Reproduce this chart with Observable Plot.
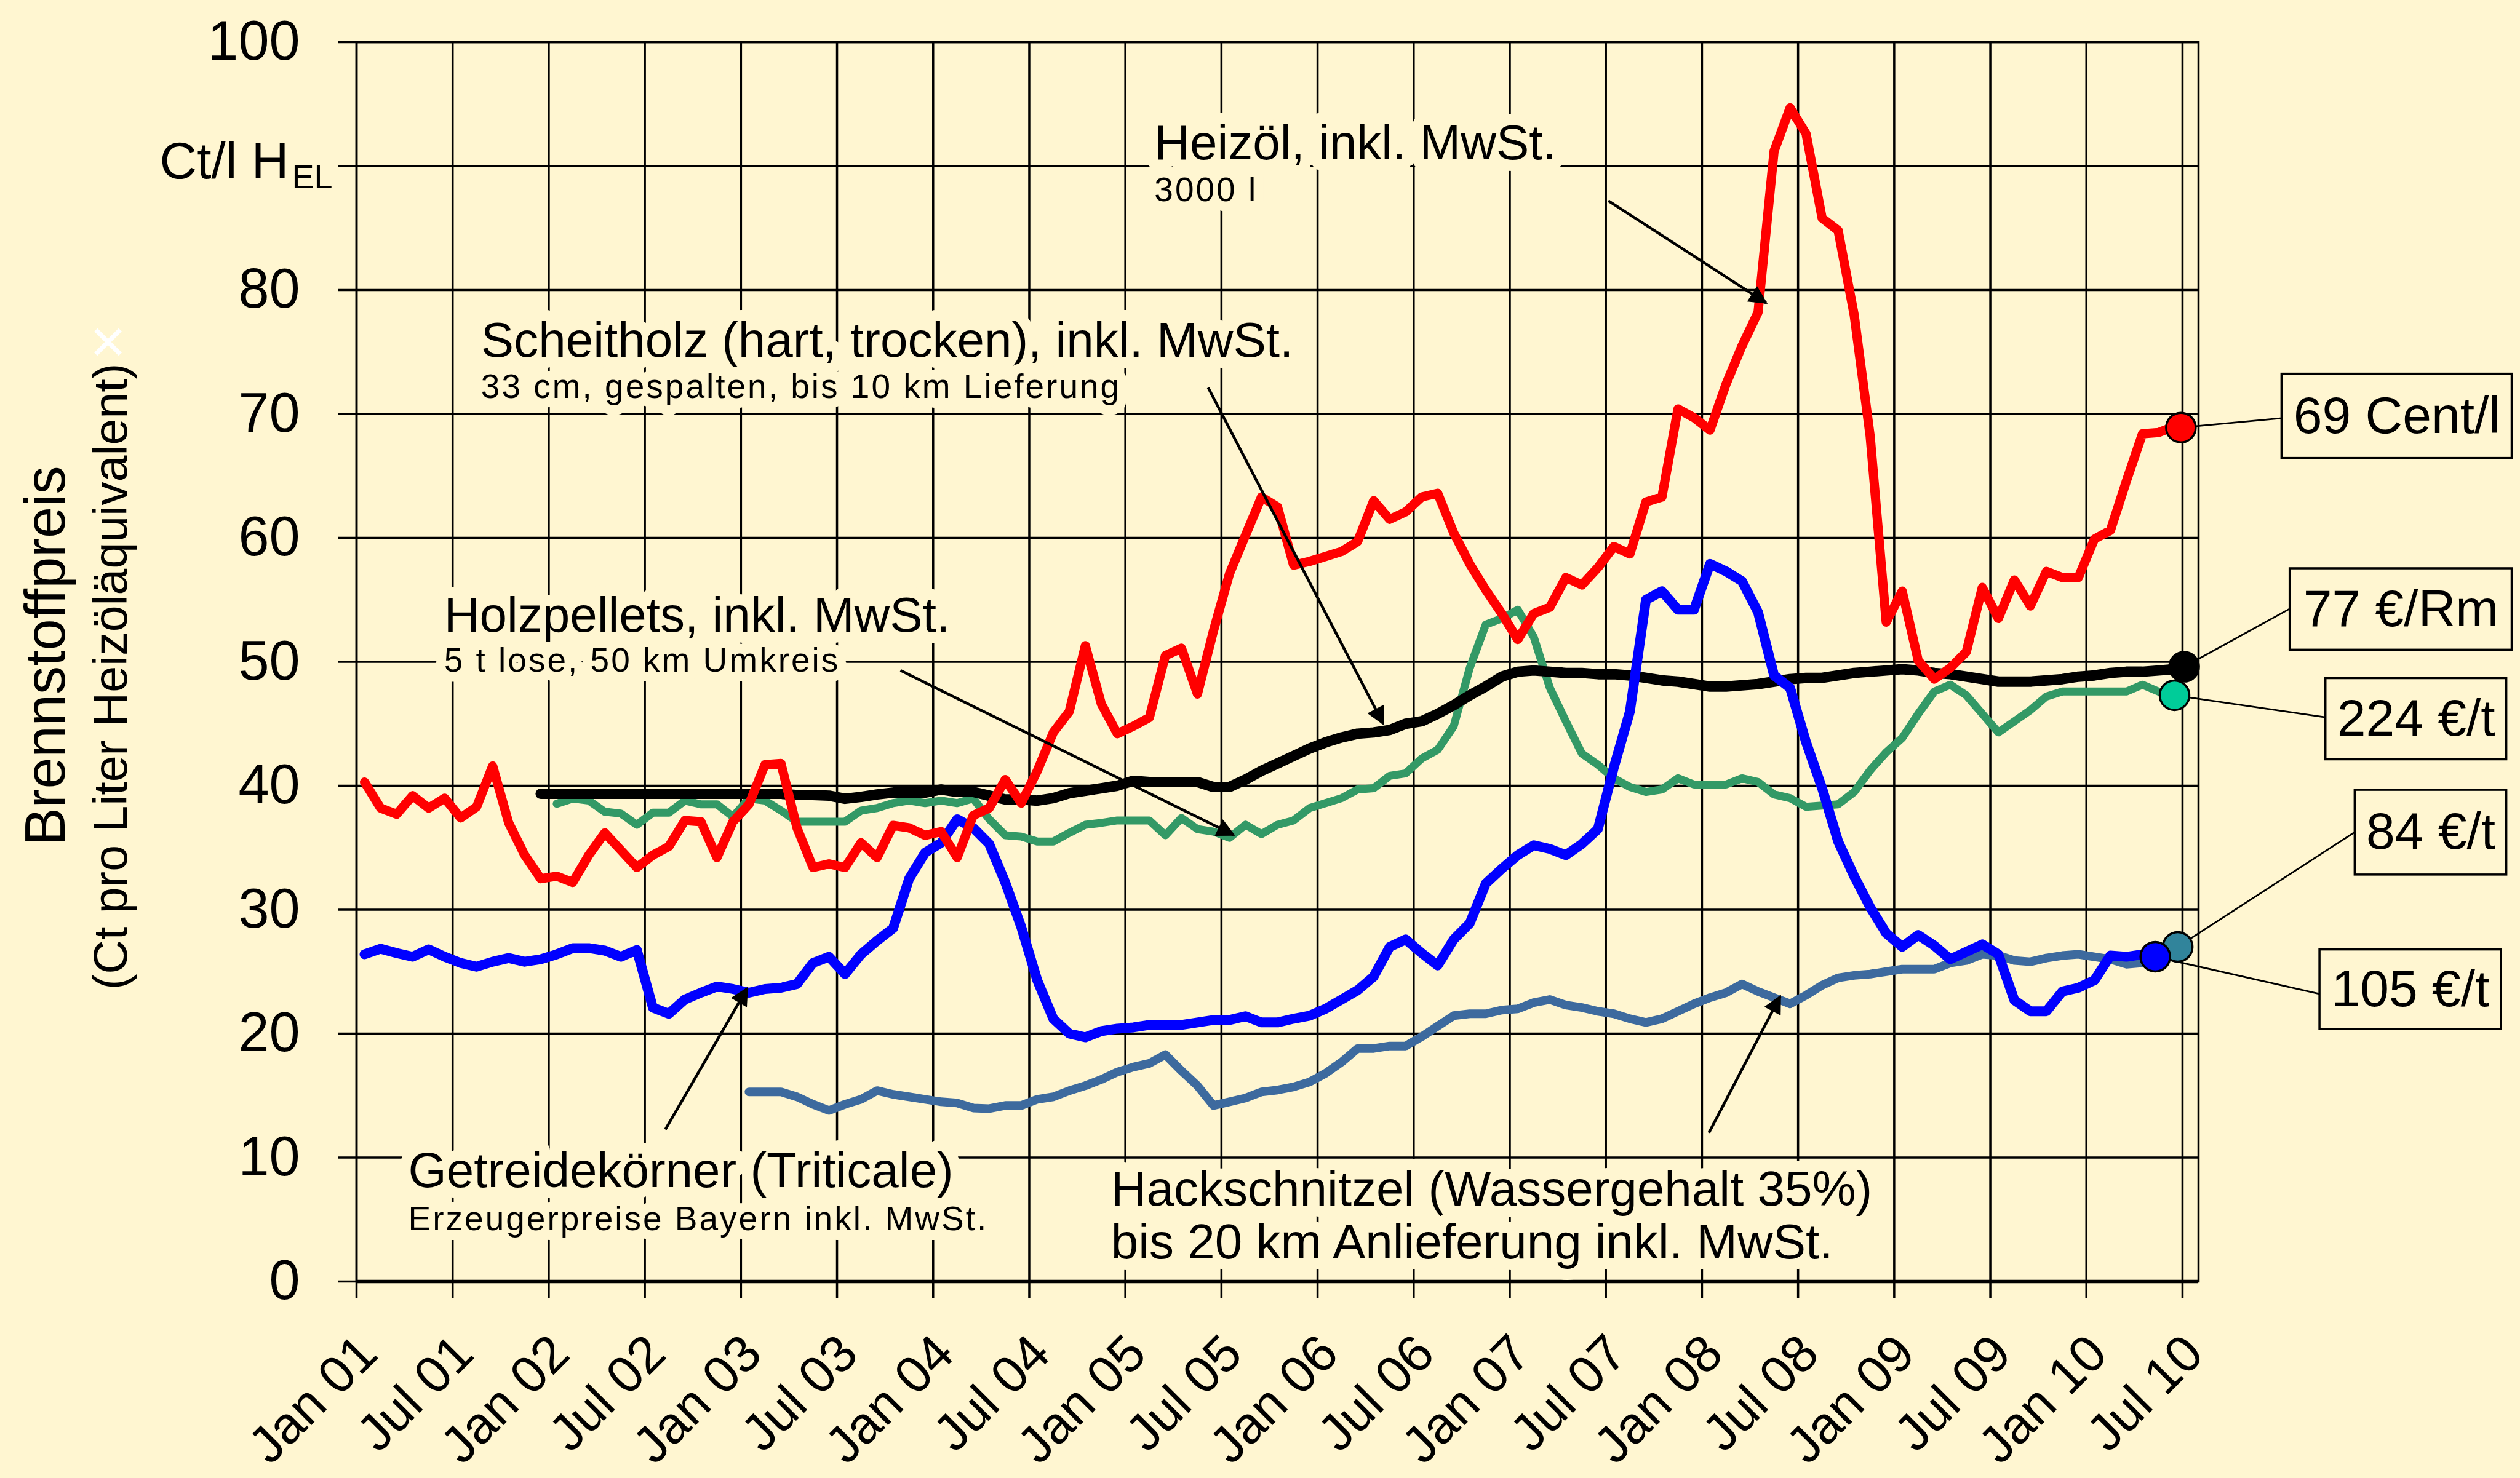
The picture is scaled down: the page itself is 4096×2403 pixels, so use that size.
<!DOCTYPE html>
<html>
<head>
<meta charset="utf-8">
<script src="https://cdn.jsdelivr.net/npm/d3@7"></script>
<script src="https://cdn.jsdelivr.net/npm/@observablehq/plot@0.6"></script>
<style>
  html, body { margin: 0; padding: 0; background: #fff6d1; overflow: hidden; }
  #chart svg { display: block; }
  g[font-size="55"] text { letter-spacing: 3px; }
  g[aria-label="link"] path { marker-end: url(#ah); }
</style>
</head>
<body>
<svg width="0" height="0" style="position:absolute">
  <defs>
    <marker id="ah" viewBox="0 0 10 10" refX="9" refY="5" markerUnits="userSpaceOnUse"
            markerWidth="36" markerHeight="30" orient="auto">
      <path d="M0,0L10,5L0,10z" fill="black"></path>
    </marker>
  </defs>
</svg>
<div id="chart"></div>
<script>
// ---------- data (Ct per litre heating-oil equivalent), monthly, month 0 = Jan 2001 ----------
const heizoelStart = 0;
const heizoel = [40.3,38.2,37.7,39.2,38.2,39.0,37.4,38.3,41.6,37.0,
  34.4,32.5,32.7,32.2,34.4,36.2,34.8,33.4,34.4,35.1,
  37.2,37.1,34.2,37.1,38.5,41.7,41.8,36.6,33.4,33.7,
  33.4,35.4,34.2,36.8,36.6,36.0,36.3,34.2,37.6,38.2,
  40.5,38.6,41.2,44.3,46.0,51.3,46.6,44.2,44.8,45.5,
  50.5,51.1,47.4,52.5,57.1,60.2,63.3,62.5,57.8,58.1,
  58.5,58.9,59.7,63.0,61.5,62.1,63.3,63.6,60.4,57.9,
  55.8,53.9,51.8,53.9,54.4,56.8,56.2,57.6,59.3,58.7,
  62.9,63.3,70.4,69.7,68.7,72.4,75.5,78.2,91.2,94.7,
  92.6,85.8,84.8,78.0,68.2,53.2,55.7,50.1,48.6,49.5,
  50.8,56.0,53.5,56.6,54.5,57.3,56.8,56.8,59.9,60.6,
  64.6,68.4,68.5,69.0];

const scheitholzStart = 11;
const scheitholz = [39.35,39.35,39.35,39.35,39.35,39.35,39.35,39.35,39.35,39.35,39.35,39.35,39.35,39.35,39.35,39.35,
  39.25,39.25,39.2,38.95,39.1,39.3,39.45,39.45,39.45,39.7,
  39.5,39.5,39.2,38.9,38.9,38.8,39.0,39.4,39.6,39.8,
  40.0,40.4,40.3,40.3,40.3,40.3,39.9,39.9,40.5,41.2,
  41.8,42.4,43.0,43.5,43.9,44.2,44.3,44.5,45.0,45.2,
  45.8,46.5,47.3,48.0,48.8,49.2,49.3,49.2,49.1,49.1,
  49.0,49.0,48.9,48.7,48.5,48.4,48.2,48.0,48.0,48.1,
  48.2,48.4,48.6,48.7,48.7,48.9,49.1,49.2,49.3,49.4,
  49.3,49.1,49.0,48.8,48.6,48.4,48.4,48.4,48.5,48.6,
  48.8,48.9,49.1,49.2,49.2,49.3,49.4];

const pelletsStart = 12;
const pellets = [38.55,38.97,38.8,37.9,37.76,36.85,37.83,37.83,38.8,38.5,
  38.5,37.5,38.97,38.8,38.0,37.1,37.1,37.1,37.1,38.0,
  38.2,38.6,38.8,38.6,38.8,38.6,38.97,37.3,36.0,35.9,
  35.5,35.5,36.2,36.85,37.0,37.2,37.2,37.2,36.0,37.4,
  36.5,36.3,35.8,36.85,36.1,36.85,37.2,38.2,38.6,39.0,
  39.7,39.8,40.8,41.0,42.2,42.9,44.8,49.5,53.0,53.5,
  54.2,52.0,47.9,45.2,42.6,41.7,40.6,39.9,39.5,39.7,
  40.6,40.1,40.1,40.1,40.6,40.3,39.3,39.0,38.3,38.4,
  38.5,39.5,41.25,42.7,43.85,45.8,47.6,48.15,47.3,45.8,
  44.3,45.2,46.1,47.2,47.6,47.6,47.6,47.6,47.6,48.15,
  47.6,47.3];

const getreideStart = 0;
const getreide = [26.4,26.85,26.5,26.2,26.8,26.2,25.7,25.4,25.8,26.1,
  25.8,26.0,26.4,26.9,26.9,26.7,26.2,26.75,22.1,21.6,
  22.75,23.3,23.8,23.6,23.3,23.6,23.7,24.0,25.7,26.2,
  24.8,26.4,27.5,28.5,32.5,34.6,35.4,37.3,36.6,35.3,
  32.2,28.6,24.3,21.2,20.0,19.7,20.2,20.4,20.5,20.7,
  20.7,20.7,20.9,21.1,21.1,21.4,20.9,20.9,21.2,21.45,
  22.0,22.75,23.5,24.6,27.0,27.6,26.5,25.5,27.6,28.9,
  32.1,33.3,34.4,35.2,34.9,34.4,35.3,36.5,41.5,46.0,
  55.0,55.7,54.2,54.2,57.9,57.3,56.5,54.0,48.9,47.9,
  43.5,39.8,35.5,32.7,30.2,28.1,27.0,27.96,27.1,26.0,
  26.6,27.2,26.4,22.7,21.8,21.8,23.4,23.7,24.3,26.3,
  26.2,26.4];

const hackStart = 24;
const hack = [15.3,15.3,15.3,14.9,14.3,13.8,14.3,14.7,15.4,15.1,
  14.9,14.7,14.5,14.4,14.0,13.95,14.2,14.2,14.7,14.9,
  15.4,15.8,16.3,16.9,17.3,17.6,18.3,17.0,15.8,14.2,
  14.5,14.8,15.3,15.45,15.7,16.1,16.8,17.7,18.8,18.8,
  19.0,19.0,19.75,20.6,21.45,21.6,21.6,21.9,22.0,22.5,
  22.75,22.3,22.1,21.8,21.6,21.2,20.9,21.2,21.8,22.4,
  22.9,23.3,24.0,23.4,22.9,22.4,23.1,23.9,24.5,24.7,
  24.8,25.0,25.2,25.2,25.2,25.7,25.9,26.4,26.3,25.9,
  25.8,26.1,26.3,26.4,26.2,26.0,25.6,25.7];

// current prices at the end of each series
const endLabels = ["69 Cent/l", "77 €/Rm", "224 €/t", "84 €/t", "105 €/t"];
const endMonths = [113.9, 114.1, 113.5, 113.7, 112.3];
const endValues = [68.9, 49.6, 47.3, 27.0, 26.2];

// axis ticks
const xTickMonths = d3.range(0, 115, 6);
const xTickLabels = ["Jan 01","Jul 01","Jan 02","Jul 02","Jan 03","Jul 03","Jan 04","Jul 04","Jan 05","Jul 05",
  "Jan 06","Jul 06","Jan 07","Jul 07","Jan 08","Jul 08","Jan 09","Jul 09","Jan 10","Jul 10"];
const yTicks = d3.range(0, 101, 10);
const yTickLabels = ["0","10","20","30","40","50","60","70","80","","100"];

// ---------- annotation layout ----------
const bg = "#fff6d1";
const lineColors = ["#ff0000", "#000000", "#339966", "#3d6a9e", "#0000ff"];
const dotFills = ["#ff0000", "#000000", "#00cc99", "#31849b", "#0000ff"];

const bigLabels = [
  {text: "Heizöl, inkl. MwSt.", m: 49.81, v: 90.54},
  {text: "Scheitholz (hart, trocken), inkl. MwSt.", m: 7.77, v: 74.6},
  {text: "Holzpellets, inkl. MwSt.", m: 5.46, v: 52.43},
  {text: "Getreidekörner (Triticale)", m: 3.23, v: 7.6},
  {text: "Hackschnitzel (Wassergehalt 35%)", m: 47.1, v: 6.14},
  {text: "bis 20 km Anlieferung inkl. MwSt.", m: 47.1, v: 1.84}
];
const smallLabels = [
  {text: "3000 l", m: 49.81, v: 87.17},
  {text: "33 cm, gespalten, bis 10 km Lieferung", m: 7.77, v: 71.27},
  {text: "5 t lose, 50 km Umkreis", m: 5.46, v: 49.19},
  {text: "Erzeugerpreise Bayern inkl. MwSt.", m: 3.23, v: 4.12}
];
const arrows = [
  {m1: 78.15, v1: 87.2, m2: 88.0, v2: 78.96},
  {m1: 53.17, v1: 72.12, m2: 64.1, v2: 45.0},
  {m1: 33.96, v1: 49.3, m2: 54.76, v2: 36.03},
  {m1: 19.28, v1: 12.26, m2: 24.39, v2: 23.66},
  {m1: 84.43, v1: 12.0, m2: 88.88, v2: 23.0}
];
const boxes = [
  {x1: 120.2, x2: 134.57, y1: 66.42, y2: 73.22, ax: 120.1, ay: 69.65},
  {x1: 120.71, x2: 134.57, y1: 50.95, y2: 57.52, ax: 120.72, ay: 54.3},
  {x1: 122.94, x2: 134.23, y1: 42.11, y2: 48.66, ax: 122.9, ay: 45.53},
  {x1: 124.77, x2: 134.23, y1: 32.81, y2: 39.65, ax: 124.77, ay: 36.27},
  {x1: 122.57, x2: 133.89, y1: 20.34, y2: 26.77, ax: 122.58, ay: 23.2}
];

// ---------- build tables ----------
function seriesTable(start, values, endIdx) {
  const pts = values.map((v, i) => ({m: start + i + 0.5, v}));
  pts.push({m: endMonths[endIdx], v: endValues[endIdx]});
  return pts;
}
const sHeiz = seriesTable(heizoelStart, heizoel, 0);
const sScheit = seriesTable(scheitholzStart, scheitholz, 1);
const sPell = seriesTable(pelletsStart, pellets, 2);
const sHack = seriesTable(hackStart, hack, 3);
const sGetr = seriesTable(getreideStart, getreide, 4);

const ends = endLabels.map((label, i) => ({label, m: endMonths[i], v: endValues[i], fill: dotFills[i], ...boxes[i]}));
const leaders = ends.flatMap((d, i) => [{i, m: d.m, v: d.v}, {i, m: d.ax, v: d.ay}]);
const xTicks = xTickMonths.map((m, i) => ({m, label: xTickLabels[i]}));
const yTickData = yTicks.map((v, i) => ({v, label: yTickLabels[i]}));

const font = "'Liberation Sans', Arial, Helvetica, sans-serif";

const chart = Plot.plot({
  width: 4096,
  height: 2403,
  marginLeft: 579,
  marginRight: 523,
  marginTop: 68,
  marginBottom: 320,
  x: {domain: [0, 115], axis: null},
  y: {domain: [0, 100], axis: null},
  style: {background: bg, fontFamily: font, overflow: "visible"},
  marks: [
    // grid
    Plot.ruleX(xTickMonths, {x: d => d, stroke: "black", strokeWidth: 3.5, insetBottom: -28}),
    Plot.ruleY(yTicks, {y: d => d, stroke: "black", strokeWidth: 3.5, insetLeft: -30}),
    Plot.frame({stroke: "black", strokeWidth: 3.5}),
    Plot.ruleY([0], {stroke: "black", strokeWidth: 5.5}),
    // in-chart labels with background halo
    Plot.text(bigLabels, {x: "m", y: "v", text: "text", textAnchor: "start", lineAnchor: "bottom",
      fontSize: 80, fill: "black", stroke: bg, strokeWidth: 36, strokeLinejoin: "round", paintOrder: "stroke"}),
    Plot.text(smallLabels, {x: "m", y: "v", text: "text", textAnchor: "start", lineAnchor: "bottom",
      fontSize: 55, fill: "black", stroke: bg, strokeWidth: 32, strokeLinejoin: "round", paintOrder: "stroke"}),
    // series
    Plot.line(sHack, {x: "m", y: "v", stroke: lineColors[3], strokeWidth: 14, strokeLinejoin: "round", strokeLinecap: "round"}),
    Plot.line(sPell, {x: "m", y: "v", stroke: lineColors[2], strokeWidth: 13, strokeLinejoin: "round", strokeLinecap: "round"}),
    Plot.line(sScheit, {x: "m", y: "v", stroke: lineColors[1], strokeWidth: 17, strokeLinejoin: "round", strokeLinecap: "round"}),
    Plot.line(sGetr, {x: "m", y: "v", stroke: lineColors[4], strokeWidth: 16, strokeLinejoin: "round", strokeLinecap: "round"}),
    Plot.line(sHeiz, {x: "m", y: "v", stroke: lineColors[0], strokeWidth: 15, strokeLinejoin: "round", strokeLinecap: "round"}),
    // arrows
    Plot.link(arrows, {x1: "m1", y1: "v1", x2: "m2", y2: "v2", stroke: "black", strokeWidth: 4.5}),
    // leaders + callouts
    Plot.line(leaders, {x: "m", y: "v", z: "i", stroke: "black", strokeWidth: 2.8}),
    Plot.dot(ends, {x: "m", y: "v", r: 24, fill: "fill", stroke: "black", strokeWidth: 3.5}),
    Plot.rect(ends, {x1: "x1", x2: "x2", y1: "y1", y2: "y2", fill: bg, stroke: "black", strokeWidth: 3.5}),
    Plot.text(ends, {x: d => (d.x1 + d.x2) / 2, y: d => (d.y1 + d.y2) / 2, text: "label", fontSize: 84, fill: "black"}),
    // y tick labels
    Plot.text(yTickData, {y: "v", frameAnchor: "left", text: "label", textAnchor: "end", dx: -92, fontSize: 90, fill: "black"}),
    Plot.text([90], {y: d => d, frameAnchor: "left", text: () => "Ct/l H", textAnchor: "end", lineAnchor: "bottom", dx: -110, dy: 20, fontSize: 84, fill: "black"}),
    Plot.text([90], {y: d => d, frameAnchor: "left", text: () => "EL", textAnchor: "start", lineAnchor: "bottom", dx: -105, dy: 36, fontSize: 54, fill: "black"}),
    // x tick labels
    Plot.text(xTicks, {x: "m", frameAnchor: "bottom", text: "label", rotate: -45, textAnchor: "end", lineAnchor: "bottom",
      dx: 38, dy: 122, fontSize: 84, fill: "black"}),
    // y titles
    Plot.text(["Brennstoffpreis"], {frameAnchor: "left", text: d => d, rotate: -90, textAnchor: "middle", lineAnchor: "bottom",
      dx: -475, dy: -10, fontSize: 92, fill: "black"}),
    Plot.text(["(Ct pro Liter Heizöläquivalent)"], {frameAnchor: "left", text: d => d, rotate: -90, textAnchor: "middle", lineAnchor: "bottom",
      dx: -374, dy: 24, fontSize: 77, fill: "black"}),
    Plot.text(["×"], {frameAnchor: "left", text: d => d, rotate: -90, textAnchor: "middle", lineAnchor: "bottom",
      dx: -371, dy: -520, fontSize: 100, fill: "white"})
  ]
});
document.getElementById("chart").appendChild(chart);
</script>
</body>
</html>
